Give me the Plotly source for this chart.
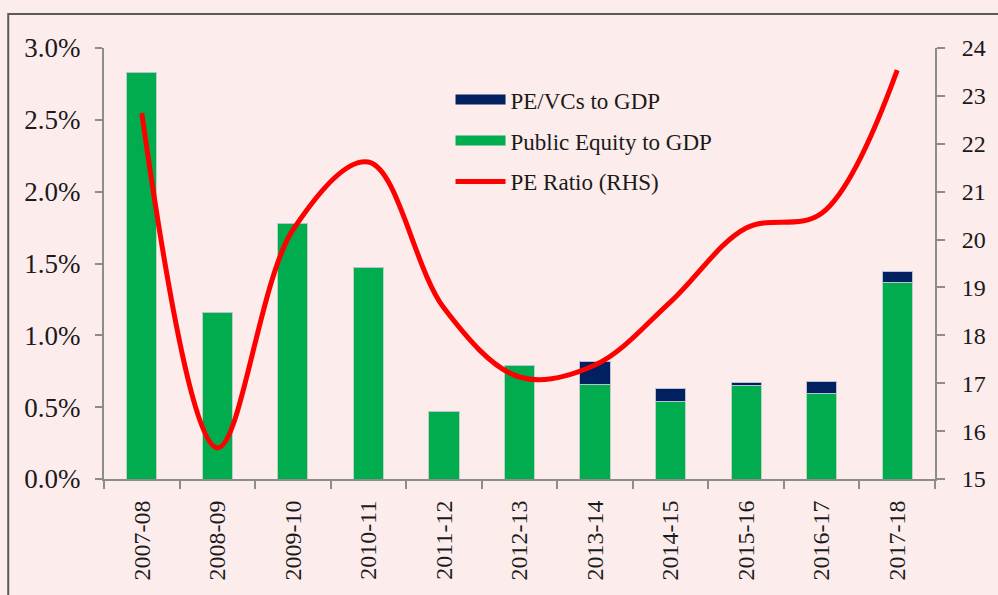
import plotly.graph_objects as go

# Fiscal years
years = ["2007-08", "2008-09", "2009-10", "2010-11", "2011-12", "2012-13",
         "2013-14", "2014-15", "2015-16", "2016-17", "2017-18"]

# Funds raised as a share of GDP (fractions)
public_equity = [0.0283, 0.0116, 0.0178, 0.01475, 0.0047, 0.0079,
                 0.00655, 0.0054, 0.0065, 0.00595, 0.01365]
pe_vc = [0.0, 0.0, 0.0, 0.0, 0.0, 0.0,
         0.0016, 0.0009, 0.00025, 0.00085, 0.0008]

# Market price-earnings ratio (right-hand scale)
pe_ratio = [22.64, 15.65, 20.2, 21.62, 18.57, 17.13,
            17.38, 18.7, 20.24, 20.55, 23.54]

NAVY = "#002060"
GREEN = "#00AC4E"
RED = "#FF0000"
AXIS = "#8c8c8c"
BG = "#fcecec"
FONT = "Liberation Serif"

fig = go.Figure()

fig.add_trace(go.Bar(
    x=years, y=public_equity, name="Public Equity to GDP",
    marker=dict(color=GREEN, line=dict(color="#b9d3c2", width=1)),
    showlegend=False, yaxis="y",
))
fig.add_trace(go.Bar(
    x=years, y=pe_vc, name="PE/VCs to GDP",
    marker=dict(color=NAVY, line=dict(color="#b9c0d3", width=1)),
    showlegend=False, yaxis="y",
))
fig.add_trace(go.Scatter(
    x=years, y=pe_ratio, name="PE Ratio (RHS)", mode="lines",
    line=dict(color=RED, width=5, shape="spline", smoothing=1.0),
    showlegend=False, yaxis="y2",
))

# Legend entries with wide swatches
for nm, col, w, grp in [("PE/VCs to GDP", NAVY, 14, "a"),
                        ("Public Equity to GDP", GREEN, 14, "b"),
                        ("PE Ratio (RHS)", RED, 5, "c")]:
    fig.add_trace(go.Scatter(
        x=[None], y=[None], mode="lines", name=nm, legendgroup=grp,
        line=dict(color=col, width=w), yaxis="y", showlegend=True,
    ))

fig.update_layout(
    width=998, height=595,
    margin=dict(l=104, r=61, t=48, b=116),
    paper_bgcolor=BG, plot_bgcolor=BG,
    font=dict(family=FONT, size=24, color="#1a1a1a"),
    barmode="stack", bargap=0.6,
    showlegend=True,
    legend=dict(
        x=0.417, y=0.93, xanchor="left", yanchor="top",
        bgcolor="rgba(0,0,0,0)", font=dict(family=FONT, size=23, color="#1a1a1a"),
        itemwidth=50, tracegroupgap=8, traceorder="grouped",
    ),
    xaxis=dict(
        type="category", showline=True, linecolor=AXIS, linewidth=2,
        ticks="outside", tickson="boundaries", ticklen=8, tickcolor=AXIS, tickwidth=2,
        tickangle=-90, showgrid=False, zeroline=False,
        tickfont=dict(family=FONT, size=24, color="#1a1a1a"),
        ticklabelstandoff=10,
    ),
    yaxis=dict(
        range=[0, 0.03], dtick=0.005, tickformat=".1%",
        showline=True, linecolor=AXIS, linewidth=2,
        ticks="outside", ticklen=7, tickcolor=AXIS, tickwidth=2,
        showgrid=False, zeroline=False,
        tickfont=dict(family=FONT, size=27, color="#1a1a1a"),
        ticklabelstandoff=9,
    ),
    yaxis2=dict(
        range=[15, 24], dtick=1, overlaying="y", side="right",
        showline=True, linecolor=AXIS, linewidth=2,
        ticks="outside", ticklen=8, tickcolor=AXIS, tickwidth=2,
        showgrid=False, zeroline=False,
        tickfont=dict(family=FONT, size=24, color="#1a1a1a"),
        ticklabelstandoff=12,
    ),
)

# Frame around the chart area
pw, ph = 998 - 104 - 61, 595 - 48 - 116
x0 = (8 - 104) / pw
x1 = (1010 - 104) / pw
y0 = -(620 - 479) / ph
y1 = (479 - 14) / ph
fig.add_shape(type="rect", xref="paper", yref="paper",
              x0=x0, x1=x1, y0=y0, y1=y1,
              line=dict(color="#5f5a5a", width=2), fillcolor="rgba(0,0,0,0)",
              layer="below")

fig.write_html("out.html")
